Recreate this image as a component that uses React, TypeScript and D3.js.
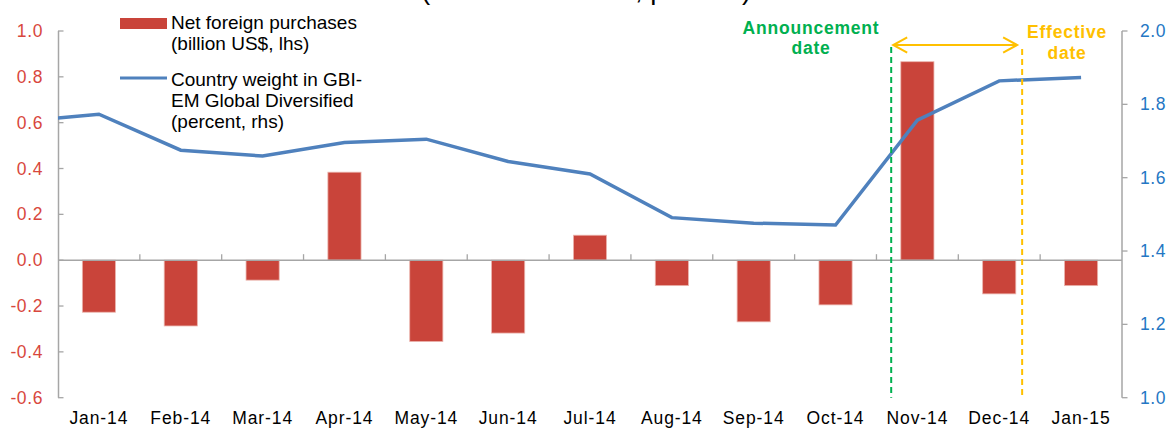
import React from "react";
import * as d3 from "d3";

const categories = ["Jan-14","Feb-14","Mar-14","Apr-14","May-14","Jun-14","Jul-14","Aug-14","Sep-14","Oct-14","Nov-14","Dec-14","Jan-15"];
const netPurchases = [-0.227,-0.287,-0.087,0.384,-0.355,-0.318,0.109,-0.111,-0.269,-0.195,0.866,-0.147,-0.111];
// country weight (percent); the series continues from Dec-13, clipped at the axis
const priorWeight = { label: "Dec-13", value: 1.753 };
const countryWeight = [1.773,1.675,1.659,1.696,1.705,1.644,1.610,1.491,1.476,1.471,1.757,1.864,1.873];
const leftTicks = [-0.6,-0.4,-0.2,0.0,0.2,0.4,0.6,0.8,1.0];
const rightTicks = [1.0,1.2,1.4,1.6,1.8,2.0];
const announcementMonth = "Nov-14";
const effectiveMonth = "Dec-14";

const W = 1170, H = 430;
const X0 = 58, X1 = 1122, YT = 31, YB = 397.7;
const FONT = "'Liberation Sans', Arial, sans-serif";
const AXIS = "#A6A6A6";
const RED = "#C9443A";
const RED_TXT = "#D8473D";
const BLUE_TXT = "#2477C4";
const LINE = "#4F81BD";
const GREEN = "#00B050";
const YELLOW = "#FFC000";

export default function App() {
  const x = d3.scaleBand<string>().domain(categories).range([X0, X1]).paddingInner(0).paddingOuter(0);
  const step = x.step();
  const barW = step * 0.405;
  const yL = d3.scaleLinear().domain([-0.6, 1.0]).range([YB, YT]);
  const yR = d3.scaleLinear().domain([1.0, 2.0]).range([YB, YT]);
  const cx = (c: string) => (x(c) as number) + step / 2;

  const linePts: [number, number][] = [
    [cx(categories[0]) - step, yR(priorWeight.value)],
    ...categories.map((c, i) => [cx(c), yR(countryWeight[i])] as [number, number]),
  ];
  const lineGen = d3.line<[number, number]>().x(d => d[0]).y(d => d[1]);

  const y0 = yL(0);
  const xAnn = (x(announcementMonth) as number) + step * 0.18;
  const xEff = (x(effectiveMonth) as number) + step * 0.78;
  const arrowY = 45;

  return (
    <svg width={W} height={H} style={{ position: "absolute", left: 0, top: 0, background: "#fff" }} fontFamily={FONT}>
      <defs>
        <clipPath id="plotClip">
          <rect x={X0} y={0} width={X1 - X0} height={H} />
        </clipPath>
      </defs>

      {/* title, cut off at the top edge as in the source */}
      <text x={421} y={-1} fontSize={27.5} fill="#000">(billion US dollars, percent)</text>

      {/* bars */}
      {categories.map((c, i) => {
        const v = netPurchases[i];
        const yTop = Math.min(yL(v), y0);
        const h = Math.abs(yL(v) - y0);
        return (
          <rect key={c} x={cx(c) - barW / 2} y={yTop} width={barW} height={h}
            fill={RED} stroke="#EBB5AE" strokeWidth={0.8} />
        );
      })}

      {/* zero axis line with category ticks */}
      <line x1={X0} x2={X1} y1={y0} y2={y0} stroke={AXIS} strokeWidth={1.5} />
      {categories.slice(1).map(c => (
        <line key={c} x1={x(c) as number} x2={x(c) as number} y1={y0} y2={y0 - 6} stroke={AXIS} strokeWidth={1.3} />
      ))}

      {/* left axis */}
      <line x1={X0 + 0.5} x2={X0 + 0.5} y1={YT} y2={YB} stroke={AXIS} strokeWidth={1.5} />
      {leftTicks.map(t => (
        <g key={t}>
          <line x1={X0} x2={X0 + 5.5} y1={yL(t)} y2={yL(t)} stroke={AXIS} strokeWidth={1.3} />
          <text x={43} y={yL(t) + 6} textAnchor="end" fontSize={17.5} letterSpacing={0.6} fill={RED_TXT}>{t.toFixed(1)}</text>
        </g>
      ))}

      {/* right axis */}
      <line x1={X1} x2={X1} y1={YT} y2={YB} stroke={AXIS} strokeWidth={1.5} />
      {rightTicks.map(t => (
        <g key={t}>
          <line x1={X1} x2={X1 + 5.5} y1={yR(t)} y2={yR(t)} stroke={AXIS} strokeWidth={1.3} />
          <text x={1140} y={yR(t) + 6} textAnchor="start" fontSize={17.5} letterSpacing={0.6} fill={BLUE_TXT}>{t.toFixed(1)}</text>
        </g>
      ))}

      {/* x labels */}
      {categories.map(c => (
        <text key={c} x={cx(c)} y={424} textAnchor="middle" fontSize={17.5} letterSpacing={0.9} fill="#000">{c}</text>
      ))}

      {/* line series */}
      <path d={lineGen(linePts) as string} fill="none" stroke={LINE} strokeWidth={3.5}
        strokeLinejoin="miter" clipPath="url(#plotClip)" />

      {/* event markers */}
      <line x1={xAnn} x2={xAnn} y1={47} y2={YB} stroke={GREEN} strokeWidth={2} strokeDasharray="6,4" />
      <line x1={xEff} x2={xEff} y1={49} y2={YB} stroke={YELLOW} strokeWidth={2} strokeDasharray="6,4" />
      <g stroke={YELLOW} strokeWidth={2} fill="none">
        <line x1={xAnn + 2} x2={xEff - 5} y1={arrowY} y2={arrowY} />
        <polyline points={`${xAnn + 16},${arrowY - 7.7} ${xAnn + 2},${arrowY} ${xAnn + 16},${arrowY + 7.7}`} />
        <polyline points={`${xEff - 19},${arrowY - 7.7} ${xEff - 5},${arrowY} ${xEff - 19},${arrowY + 7.7}`} />
      </g>
      <g fontWeight="bold" fontSize={17.5} letterSpacing={0.8} textAnchor="middle">
        <text x={811} y={33.5} fill={GREEN}>Announcement</text>
        <text x={811} y={54} fill={GREEN}>date</text>
        <text x={1067} y={38} fill={YELLOW}>Effective</text>
        <text x={1067} y={58.5} fill={YELLOW}>date</text>
      </g>

      {/* legend */}
      <rect x={120} y={18} width={47} height={11} fill={RED} />
      <line x1={120} x2={167} y1={78} y2={78} stroke={LINE} strokeWidth={3.2} />
      <g fontSize={19} fill="#000">
        <text x={171} y={29}>Net foreign purchases</text>
        <text x={171} y={50}>(billion US$, lhs)</text>
        <text x={171} y={85.5}>Country weight in GBI-</text>
        <text x={171} y={106.5}>EM Global Diversified</text>
        <text x={171} y={127.5}>(percent, rhs)</text>
      </g>
    </svg>
  );
}
